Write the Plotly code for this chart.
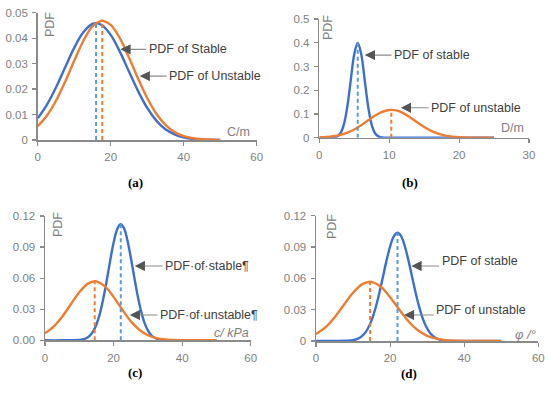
import plotly.graph_objects as go

# ---------------- data ----------------
# (a) C/m
a_x = [0, 2.5, 5, 7.5, 10, 12.5, 15, 16, 17.5, 20, 22.5, 25, 27.5, 30, 32.5, 35, 37.5, 40, 42.5, 45, 47.5, 50]
a_stable = [0.0085, 0.0138, 0.0206, 0.0285, 0.0362, 0.0423, 0.0456, 0.0459, 0.0452, 0.0413, 0.0347, 0.0269,
            0.0192, 0.0126, 0.0076, 0.0042, 0.0022, 0.0010, 0.0004, 0.0002, 0.0001, 0.0000]
a_x2 = [0, 2.5, 5, 7.5, 10, 12.5, 15, 17.5, 17.7, 20, 22.5, 25, 27.5, 30, 32.5, 35, 37.5, 40, 42.5, 45, 47.5, 50]
a_unstable = [0.0054, 0.0095, 0.0154, 0.0228, 0.0311, 0.0389, 0.0446, 0.0469, 0.0469, 0.0452, 0.0400, 0.0324,
              0.0241, 0.0165, 0.0103, 0.0059, 0.0031, 0.0015, 0.0007, 0.0003, 0.0001, 0.0000]
a_mean = [16.0, 17.7]
a_peak = [0.0459, 0.0469]

# (b) D/m
b_x = [0, 1, 2, 2.5, 3, 3.5, 4, 4.5, 5, 5.5, 6, 6.5, 7, 7.5, 8, 8.5, 9, 10, 15, 20, 25]
b_stable = [0.0, 0.0, 0.0009, 0.0044, 0.0175, 0.054, 0.1295, 0.242, 0.352, 0.399, 0.352, 0.242, 0.1295,
            0.054, 0.0175, 0.0044, 0.0009, 0.0, 0.0, 0.0, 0.0]
b_x2 = [0, 1, 2, 3, 4, 5, 6, 7, 8, 9, 10, 10.3, 11, 12, 13, 14, 15, 16, 17, 18, 19, 20, 21, 22, 23, 24, 25]
b_unstable = [0.0012, 0.0028, 0.0060, 0.0117, 0.0211, 0.0348, 0.0527, 0.0732, 0.0933, 0.1090, 0.1168, 0.1173,
              0.1148, 0.1035, 0.0856, 0.0649, 0.0451, 0.0288, 0.0168, 0.0090, 0.0044, 0.0020, 0.0008,
              0.0003, 0.0001, 0.0, 0.0]
b_mean = [5.5, 10.3]
b_peak = [0.399, 0.1173]

# (c) c/kPa
c_x = [0, 5, 10, 11, 12, 13, 14, 15, 16, 17, 18, 19, 20, 21, 22, 23, 24, 25, 26, 27, 28, 29, 30, 31, 32,
       33, 34, 35, 40, 45, 50]
c_stable = [0.0, 0.0, 0.0004, 0.0009, 0.0020, 0.0043, 0.0084, 0.0153, 0.0258, 0.0401, 0.0577, 0.0767,
            0.0941, 0.1068, 0.1120, 0.1085, 0.0971, 0.0804, 0.0615, 0.0435, 0.0284, 0.0171, 0.0096,
            0.0049, 0.0024, 0.0010, 0.0004, 0.0002, 0.0, 0.0, 0.0]
c_x2 = [0, 2.5, 5, 7.5, 10, 12.5, 14.5, 15, 17.5, 20, 22.5, 25, 27.5, 30, 32.5, 35, 37.5, 40, 42.5, 45, 47.5, 50]
c_unstable = [0.0067, 0.0131, 0.0227, 0.0346, 0.0464, 0.0547, 0.0570, 0.0569, 0.0520, 0.0419, 0.0297,
              0.0185, 0.0102, 0.0049, 0.0021, 0.0008, 0.0003, 0.0001, 0.0, 0.0, 0.0, 0.0]
c_mean = [22.1, 14.5]
c_peak = [0.1120, 0.0570]

# (d) phi/deg
d_x = [0, 5, 10, 11, 12, 13, 14, 15, 16, 17, 18, 19, 20, 21, 22, 23, 24, 25, 26, 27, 28, 29, 30, 31, 32,
       33, 34, 35, 40, 45, 50]
d_stable = [0.0, 0.0, 0.0008, 0.0018, 0.0036, 0.0067, 0.0120, 0.0198, 0.0308, 0.0446, 0.0604, 0.0765,
            0.0905, 0.1002, 0.1036, 0.1002, 0.0905, 0.0765, 0.0604, 0.0446, 0.0308, 0.0198, 0.0120,
            0.0067, 0.0036, 0.0018, 0.0008, 0.0003, 0.0, 0.0, 0.0]
d_x2 = [0, 2.5, 5, 7.5, 10, 12.5, 14.6, 15, 17.5, 20, 22.5, 25, 27.5, 30, 32.5, 35, 37.5, 40, 42.5, 45, 47.5, 50]
d_unstable = [0.0066, 0.0130, 0.0226, 0.0345, 0.0462, 0.0545, 0.0568, 0.0567, 0.0520, 0.0420, 0.0299,
              0.0187, 0.0103, 0.0050, 0.0022, 0.0008, 0.0003, 0.0001, 0.0, 0.0, 0.0, 0.0]
d_mean = [22.0, 14.6]
d_peak = [0.1036, 0.0568]

a_yticks = [0, 0.01, 0.02, 0.03, 0.04, 0.05]
a_ylabels = ["0", "0.01", "0.02", "0.03", "0.04", "0.05"]
b_yticks = [0, 0.1, 0.2, 0.3, 0.4, 0.5]
b_ylabels = ["0", "0.1", "0.2", "0.3", "0.4", "0.5"]
c_yticks = [0, 0.03, 0.06, 0.09, 0.12]
c_ylabels = ["0.00", "0.03", "0.06", "0.09", "0.12"]
d_ylabels = ["0", "0.03", "0.06", "0.09", "0.12"]
x60_ticks = [0, 20, 40, 60]
x30_ticks = [0, 10, 20, 30]

# ---------------- style ----------------
BLUE = "#3d6fcf"
BLUE_D = "#5b9bd5"
ORANGE = "#ed7d31"
GRAY = "#8a8a8a"
TXT = "#404040"
FONT = "Liberation Sans, Arial, sans-serif"

fig = go.Figure()

def curves(xs, ys, xs2, ys2, means, peaks, ax):
    xa = "x" if ax == 1 else f"x{ax}"
    ya = "y" if ax == 1 else f"y{ax}"
    fig.add_trace(go.Scatter(x=xs, y=ys, mode="lines", line=dict(color=BLUE, width=2.4, shape="spline"),
                             xaxis=xa, yaxis=ya, showlegend=False, hoverinfo="skip", cliponaxis=False))
    fig.add_trace(go.Scatter(x=xs2, y=ys2, mode="lines", line=dict(color=ORANGE, width=2.4, shape="spline"),
                             xaxis=xa, yaxis=ya, showlegend=False, hoverinfo="skip", cliponaxis=False))
    # dashed mean lines: first is stable (blue), second unstable (orange)
    for m, p, col in zip(means, peaks, [BLUE_D, ORANGE]):
        fig.add_trace(go.Scatter(x=[m, m], y=[0, p], mode="lines",
                                 line=dict(color=col, width=2, dash="4px,3px"),
                                 xaxis=xa, yaxis=ya, showlegend=False, hoverinfo="skip"))

curves(a_x, a_stable, a_x2, a_unstable, a_mean, a_peak, 1)
curves(b_x, b_stable, b_x2, b_unstable, b_mean, b_peak, 2)
curves(c_x, c_stable, c_x2, c_unstable, c_mean, c_peak, 3)
curves(d_x, d_stable, d_x2, d_unstable, d_mean, d_peak, 4)

W, H = 550, 393
def dom_x(l, r):
    return [l / W, r / W]
def dom_y(t, b):
    return [1 - b / H, 1 - t / H]

axis_common = dict(showgrid=False, zeroline=False, showline=True, linecolor=GRAY, linewidth=1.5,
                   ticks="outside", ticklen=4, tickcolor=GRAY, tickwidth=1.2, automargin=False,
                   tickfont=dict(family=FONT, size=11.5, color="#808080"), fixedrange=True)

layout = dict(width=W, height=H, margin=dict(l=0, r=0, t=0, b=0),
              paper_bgcolor="white", plot_bgcolor="white")

specs = [
    (1, dom_x(37.7, 256.7), dom_y(12.7, 140), [0, 60], x60_ticks, [0, 0.05], a_yticks, a_ylabels),
    (2, dom_x(319.3, 529), dom_y(19, 137.7), [0, 30], x30_ticks, [0, 0.5], b_yticks, b_ylabels),
    (3, dom_x(45, 250.7), dom_y(216, 340.3), [0, 60], x60_ticks, [0, 0.12], c_yticks, c_ylabels),
    (4, dom_x(316, 538.3), dom_y(215.7, 341), [0, 60], x60_ticks, [0, 0.12], c_yticks, d_ylabels),
]
for i, dx, dy, xr, xt, yr, yt, yl in specs:
    sx = "" if i == 1 else str(i)
    layout[f"xaxis{sx}"] = dict(axis_common, domain=dx, range=xr, tickvals=xt,
                                anchor=f"y{sx}", ticklabelstandoff=2)
    layout[f"yaxis{sx}"] = dict(axis_common, domain=dy, range=yr, tickvals=yt, ticktext=yl,
                                anchor=f"x{sx}", ticklabelstandoff=2)
fig.update_layout(**layout)

ann = []
def arrow_label(ax, x, y, text, tail, dy_text=0):
    xr = "x" if ax == 1 else f"x{ax}"
    yr = "y" if ax == 1 else f"y{ax}"
    ann.append(dict(x=x, y=y, xref=xr, yref=yr, text="", showarrow=True, ax=tail, ay=0,
                    arrowhead=2, arrowsize=1.8, arrowwidth=1.1, arrowcolor="#8c8c8c", standoff=0))
    ann.append(dict(x=x, y=y, xref=xr, yref=yr, text="", showarrow=True, ax=7, ay=0,
                    arrowhead=2, arrowsize=1.8, arrowwidth=1.1, arrowcolor="#555555", standoff=0))
    ann.append(dict(x=x, y=y, xref=xr, yref=yr, text=text, showarrow=True, ax=tail - 1, ay=dy_text,
                    arrowcolor="rgba(0,0,0,0)", xanchor="left", yanchor="middle",
                    font=dict(family=FONT, size=12.5, color=TXT)))

arrow_label(1, 22.7, 0.0356, "PDF of Stable", 27)
arrow_label(1, 28.0, 0.0251, "PDF of Unstable", 28)
arrow_label(2, 6.54, 0.348, "PDF of stable", 28)
arrow_label(2, 11.7, 0.126, "PDF of unstable", 29)
arrow_label(3, 26.25, 0.0717, "PDF·of·stable¶", 29)
arrow_label(3, 24.8, 0.0244, "PDF·of·unstable¶", 29)
arrow_label(4, 25.8, 0.0718, "PDF of stable", 29, -5)
arrow_label(4, 23.8, 0.0249, "PDF of unstable", 31, -5)

def paper(px, py):
    return px / W, 1 - py / H

def ptext(px, py, text, size=12, angle=0, color="#7f7f7f", family=FONT, xanchor="center"):
    x, y = paper(px, py)
    ann.append(dict(x=x, y=y, xref="paper", yref="paper", text=text, showarrow=False, textangle=angle,
                    xanchor=xanchor, yanchor="middle", font=dict(family=family, size=size, color=color)))

# axis titles
ptext(50, 25, "PDF", 12.5, -90)
ptext(328, 28, "PDF", 12.5, -90)
ptext(58, 225, "PDF", 12.5, -90)
ptext(332, 227, "PDF", 12.5, -90)
ptext(252, 132, "C/m", 12.5, xanchor="right")
ptext(526, 128, "D/m", 12.5, xanchor="right")
ptext(251, 333, "<i>c/ kPa</i>", 12.5, xanchor="right")
ptext(538, 334, "<i>φ /°</i>", 13, xanchor="right")

# captions
SERIF = "Liberation Serif, Times New Roman, serif"
ptext(135, 182, "<b>(a)</b>", 13, color="#000000", family=SERIF)
ptext(410, 182, "<b>(b)</b>", 13, color="#000000", family=SERIF)
ptext(135, 372, "<b>(c)</b>", 13, color="#000000", family=SERIF)
ptext(409, 373, "<b>(d)</b>", 13, color="#000000", family=SERIF)

fig.update_layout(annotations=ann)
fig.write_html("out.html", config={"displayModeBar": False, "staticPlot": True},
               post_script="document.body.style.margin='0';document.body.style.overflow='hidden';")
